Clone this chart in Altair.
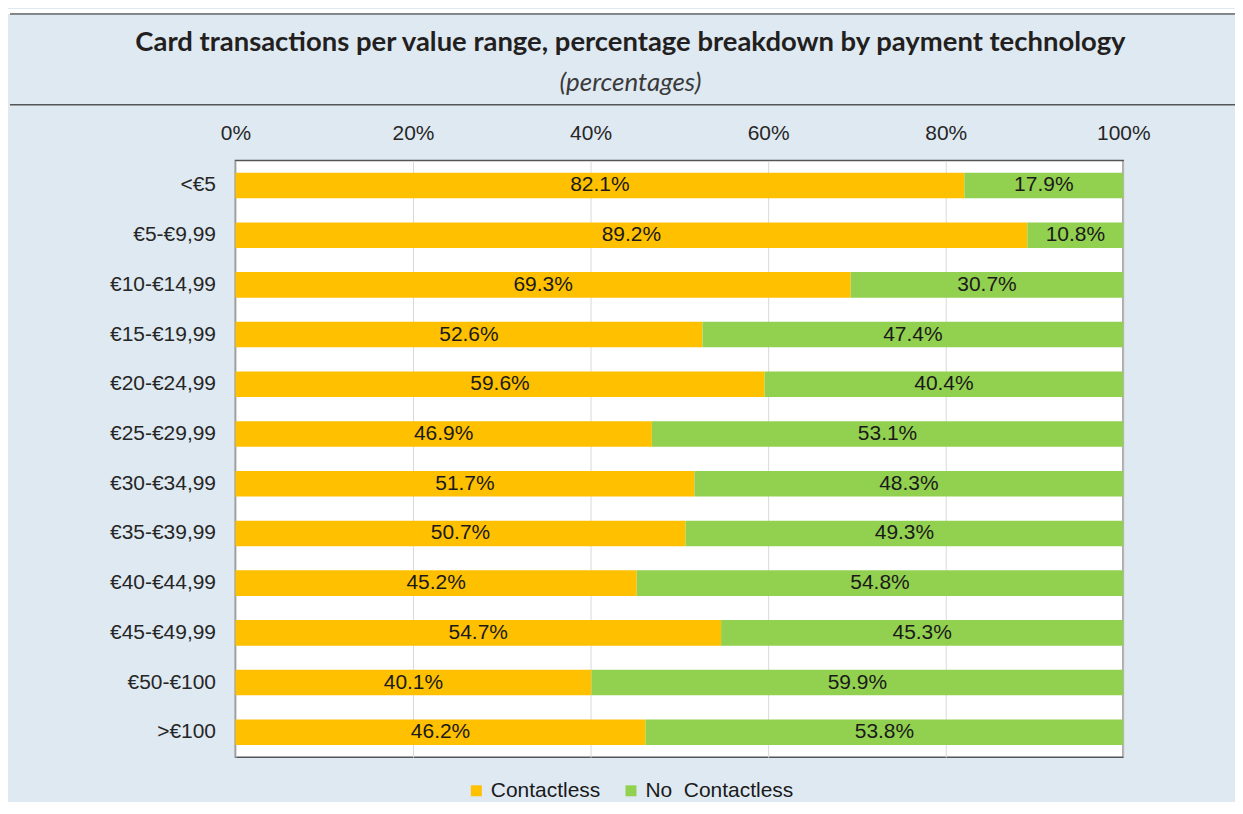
import altair as alt
import pandas as pd

ranges = ["<€5", "€5-€9,99", "€10-€14,99", "€15-€19,99", "€20-€24,99", "€25-€29,99",
          "€30-€34,99", "€35-€39,99", "€40-€44,99", "€45-€49,99", "€50-€100", ">€100"]
contactless = [82.1, 89.2, 69.3, 52.6, 59.6, 46.9, 51.7, 50.7, 45.2, 54.7, 40.1, 46.2]
no_contactless = [17.9, 10.8, 30.7, 47.4, 40.4, 53.1, 48.3, 49.3, 54.8, 45.3, 59.9, 53.8]
series = ["Contactless", "No  Contactless"]
colors = ["#ffc000", "#92d050"]
x_ticks = [0, 20, 40, 60, 80, 100]

rows = []
for r, c, n in zip(ranges, contactless, no_contactless):
    rows.append({"range": r, "type": series[0], "value": c, "order": 0})
    rows.append({"range": r, "type": series[1], "value": n, "order": 1})
df = pd.DataFrame(rows)

LABEL_FONT = "Liberation Sans"
W, H = 890, 598

y_enc = alt.Y("range:N", sort=ranges, title=None,
              scale=alt.Scale(paddingInner=0.486, paddingOuter=0.243),
              axis=alt.Axis(labelFont=LABEL_FONT, labelFontSize=21, labelColor="#262626",
                            labelPadding=20, ticks=False, domain=False, grid=False))

bars = alt.Chart(df).mark_bar().encode(
    y=y_enc,
    x=alt.X("value:Q", stack="zero", title=None,
            scale=alt.Scale(domain=[0, 100], nice=False),
            axis=alt.Axis(orient="top", values=x_ticks, labelExpr="datum.value + '%'",
                          labelFont=LABEL_FONT, labelFontSize=21, labelColor="#262626",
                          labelPadding=17, labelFlush=False, ticks=False, domain=False,
                          gridColor="#d9d9d9", gridWidth=1)),
    color=alt.Color("type:N", scale=alt.Scale(domain=series, range=colors),
                    legend=alt.Legend(orient="none", legendX=231, legendY=621,
                                      direction="horizontal", title=None,
                                      symbolType="square", symbolSize=121,
                                      symbolStrokeWidth=0, labelFont=LABEL_FONT,
                                      labelFontSize=21, labelColor="#1a1a1a",
                                      labelOffset=4, columnPadding=20,
                                      labelExpr="replace(datum.label, '  ', '\u00a0 ')")),
    order=alt.Order("order:Q"),
)

labels = alt.Chart(df).transform_stack(
    stack="value", groupby=["range"], as_=["x0", "x1"], sort=[alt.SortField("order")]
).transform_calculate(
    mid="(datum.x0 + datum.x1) / 2",
    label="format(datum.value, '.1f') + '%'",
).mark_text(font=LABEL_FONT, fontSize=21, color="#1a1a1a", baseline="middle").encode(
    y=alt.Y("range:N", sort=ranges),
    x=alt.X("mid:Q"),
    text="label:N",
)

one = pd.DataFrame({"a": [0]})
top_white = alt.Chart(one).mark_rect(color="white").encode(
    x=alt.value(-230), x2=alt.value(1010), y=alt.value(-152), y2=alt.value(-147))
top_line = alt.Chart(one).mark_rule(color="#1a1a1a", strokeWidth=1).encode(
    x=alt.value(-226), x2=alt.value(1010), y=alt.value(-147))
title_line = alt.Chart(one).mark_rule(color="#555555", strokeWidth=1.5).encode(
    x=alt.value(-226), x2=alt.value(1010), y=alt.value(-56))

chart = alt.layer(top_white, top_line, title_line, bars, labels).properties(
    width=W, height=H,
    background="#dfe9f2",
    padding={"left": 228, "top": 152, "right": 112, "bottom": 44},
    autosize=alt.AutoSizeParams(type="none"),
    title=alt.TitleParams(
        text="Card transactions per value range, percentage breakdown by payment technology",
        subtitle="(percentages)",
        anchor="middle", frame="group", dx=-49, dy=87, offset=0,
        font="Lato", fontSize=27.5, fontWeight="bold", color="#231f20",
        subtitleFont="Lato", subtitleFontSize=26, subtitleFontStyle="italic",
        subtitleFontWeight="normal",
        subtitleColor="#3a3a3a", subtitlePadding=13,
    ),
).configure_view(fill="white", stroke="#555555", strokeWidth=1.5)

chart.save("out.html", embed_options={"renderer": "svg", "actions": False})
